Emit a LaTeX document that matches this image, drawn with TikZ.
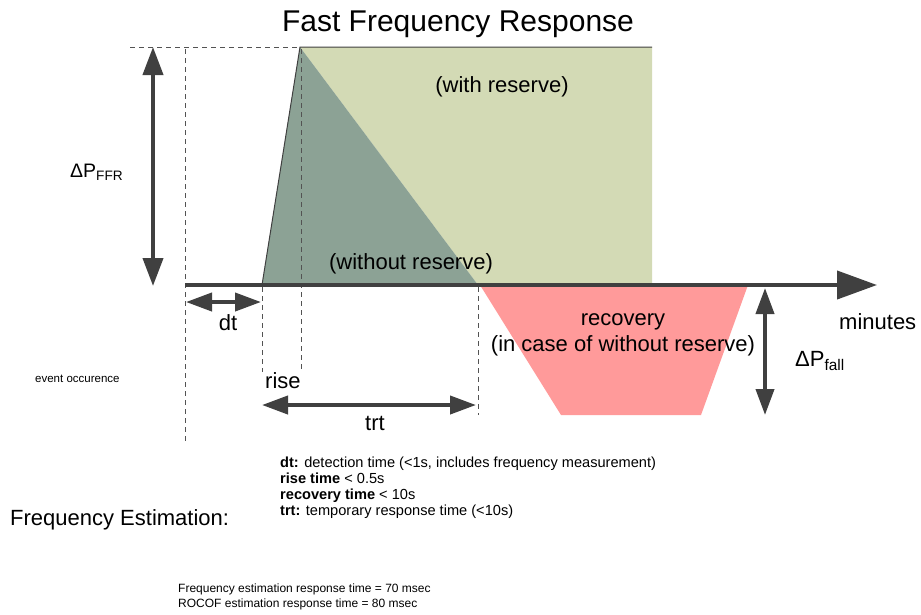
\documentclass[tikz,border=0pt]{standalone}
\usepackage{fontspec}
\setmainfont{Liberation Sans}
\usetikzlibrary{arrows.meta}
\definecolor{lgreen}{HTML}{D3DAB5}
\definecolor{dgreen}{HTML}{8CA295}
\definecolor{rfill}{HTML}{FF9A9A}
\definecolor{dk}{HTML}{404040}
\tikzset{
  dashln/.style={draw=dk!90, line width=0.8pt, dash pattern=on 5pt off 4pt},
  bigarrow/.style={draw=dk, line width=4pt, -{Triangle[length=40pt,width=28pt]}},
  dbl/.style={draw=dk, line width=4pt, {Triangle[length=28pt,width=20pt]}-{Triangle[length=28pt,width=20pt]}},
  dblsm/.style={draw=dk, line width=4pt, {Triangle[length=26pt,width=18pt]}-{Triangle[length=26pt,width=18pt]}},
  lbl/.style={inner sep=0pt, font=\fontsize{22}{26}\selectfont},
  small/.style={inner sep=0pt, anchor=base west, font=\fontsize{14.6}{16}\selectfont},
  tiny/.style={inner sep=0pt, anchor=base west, font=\fontsize{12}{15}\selectfont},
}
\begin{document}
\begin{tikzpicture}[x=1pt,y=-1pt]
\useasboundingbox (0,0) rectangle (921,614);
% areas
\coordinate (rs) at (262,285);
\coordinate (pk) at (300,47);
\coordinate (tr) at (652,47);
\coordinate (br) at (652,285);
\coordinate (cx) at (478,285);
\fill[lgreen] (pk) -- (tr) -- (br) -- (cx) -- cycle;
\fill[dgreen] (rs) -- (pk) -- (cx) -- cycle;
\fill[rfill] (480,285) -- (748,285) -- (701,415) -- (561,415) -- cycle;
\draw[dk, line width=1pt] (rs) -- (pk) -- (tr);
% dashed lines
\draw[dashln] (130,47) -- (pk);
\draw[dashln] (185,49) -- (185,442);
\draw[dashln] (262,287) -- (262,372);
\draw[dashln] (301,49) -- (301,372);
\draw[dashln] (478,287) -- (478,415);
% axis
\coordinate (a0) at (185,285);
\coordinate (a1) at (877,285);
\draw[bigarrow] (a0) -- (a1);
% double arrows
\coordinate (f0) at (153,47);
\coordinate (f1) at (153,286);
\draw[dbl] (f0) -- (f1);
\coordinate (d0) at (186,302);
\coordinate (d1) at (261,302);
\draw[dblsm] (d0) -- (d1);
\coordinate (t0) at (262,405);
\coordinate (t1) at (476,405);
\draw[dblsm] (t0) -- (t1);
\coordinate (p0) at (765,288);
\coordinate (p1) at (765,415);
\draw[dblsm] (p0) -- (p1);
% texts
\node[inner sep=0pt, anchor=base, font=\fontsize{30}{34}\selectfont] (title) at (458,31) {Fast Frequency Response};
\node[lbl, anchor=base] (wr) at (502,92) {(with reserve)};
\node[lbl, anchor=base] (wor) at (411,269) {(without reserve)};
\node[lbl, anchor=base] (rec) at (623,325) {recovery};
\node[lbl, anchor=base] (rec2) at (623,351) {(in case of without reserve)};
\node[lbl, anchor=base west] (min) at (839,329) {minutes};
\node[lbl, anchor=base west] (pfall) at (795,366) {ΔP\textsubscript{fall}};
\node[inner sep=0pt, anchor=base west, font=\fontsize{19.5}{23}\selectfont] (pffr) at (70,177) {ΔP\textsubscript{FFR}};
\node[lbl, anchor=base] (dt) at (228,330) {dt};
\node[lbl, anchor=base west] (rise) at (265,388) {rise};
\node[lbl, anchor=base] (trt) at (375,430) {trt};
\node[inner sep=0pt, anchor=base west, font=\fontsize{11.5}{14}\selectfont] (ev) at (35,382) {event occurence};
\node[small] (l1) at (280,467) {\textbf{dt:} detection time (<1s, includes frequency measurement)};
\node[small] (l2) at (280,483) {\textbf{rise time} < 0.5s};
\node[small] (l3) at (280,499) {\textbf{recovery time} < 10s};
\node[small] (l4) at (280,515) {\textbf{trt:} temporary response time (<10s)};
\node[inner sep=0pt, anchor=base west, font=\fontsize{22}{26}\selectfont] (fe) at (10,525) {Frequency Estimation:};
\node[tiny] (m1) at (178,592) {Frequency estimation response time = 70 msec};
\node[tiny] (m2) at (178,607) {ROCOF estimation response time = 80 msec};
\end{tikzpicture}
\end{document}
